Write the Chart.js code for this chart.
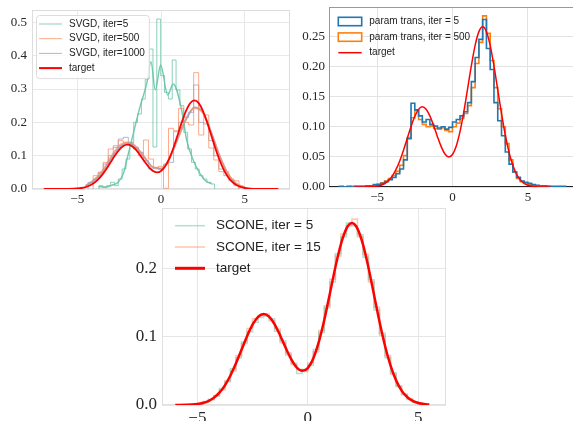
<!DOCTYPE html>
<html>
<head>
<meta charset="utf-8">
<script src="https://cdn.jsdelivr.net/npm/chart.js@4.4.0/dist/chart.umd.min.js"></script>
<style>
html, body { margin: 0; padding: 0; background: #fff; }
body { width: 574px; height: 421px; position: relative; overflow: hidden; }
canvas { position: absolute; }
#svgd { left: 0; top: 0; }
#ptrans { left: 295px; top: 0; }
#scone { left: 120px; top: 205px; }
</style>
</head>
<body>
<canvas id="svgd" width="295" height="205"></canvas>
<canvas id="ptrans" width="279" height="205"></canvas>
<canvas id="scone" width="340" height="216"></canvas>
<script>
// target density
const targetX = [-7, -6.5, -6, -5.5, -5, -4.75, -4.5, -4.25, -4, -3.75, -3.5, -3.25, -3, -2.75, -2.5, -2.25,
    -2, -1.75, -1.5, -1.25, -1, -0.75, -0.5, -0.25, 0, 0.25, 0.5, 0.75, 1, 1.25, 1.5, 1.75, 2, 2.25, 2.5,
    2.75, 3, 3.25, 3.5, 3.75, 4, 4.25, 4.5, 4.75, 5, 5.5, 6, 6.5, 7];
const targetY = [0, 0.00001, 0.00005, 0.0003, 0.0015, 0.0030, 0.0058, 0.0106, 0.0180, 0.0288, 0.0432, 0.0609,
    0.0807, 0.1004, 0.1174, 0.1289, 0.1331, 0.1291, 0.1180, 0.1017, 0.0836, 0.0670, 0.0548, 0.0499, 0.0540,
    0.0681, 0.0922, 0.1247, 0.1628, 0.2014, 0.2350, 0.2579, 0.2660, 0.2578, 0.2347, 0.2007, 0.1613, 0.1217,
    0.0863, 0.0575, 0.0360, 0.0211, 0.0117, 0.0061, 0.0030, 0.0006, 0.0001, 0.00001, 0];

// panel 1: SVGD histograms (first bin edge, bin width, heights)
const svgd5Start = -3.7, svgd5Width = 0.23;
const svgd5Hist = [0.01, 0.005, 0.01, 0.02, 0.01, 0.03, 0.06, 0.09, 0.14, 0.20, 0.225, 0.27, 0.33, 0.42, 0.126,
    0.51, 0.34, 0.29, 0.27, 0.387, 0.297, 0.25, 0.17, 0.12, 0.08, 0.06, 0.04, 0.03, 0.02, 0.015];
const svgd500Start = -4.05, svgd500Width = 0.3;
const svgd500Hist = [0.04, 0.05, 0.08, 0.12, 0.13, 0.145, 0.14, 0.14, 0.12, 0.10, 0.147, 0.09, 0.065, 0.068,
    0.002, 0.182, 0.175, 0.242, 0.20, 0.192, 0.349, 0.162, 0.222, 0.123, 0.087, 0.052, 0.052, 0.03, 0.025];
const svgd1000Start = -4.35, svgd1000Width = 0.3;
const svgd1000Hist = [0.02, 0.03, 0.05, 0.075, 0.10, 0.125, 0.15, 0.155, 0.135, 0.125, 0.11, 0.085, 0.06, 0.065,
    0.06, 0.075, 0.08, 0.172, 0.20, 0.215, 0.23, 0.312, 0.20, 0.195, 0.145, 0.10, 0.06, 0.04, 0.025, 0.01];

// panel 1: smoothed density lines
const svgd5KdeX = [-3.73, -3.3, -2.9, -2.56, -2.24, -2.04, -1.65, -1.25, -0.85, -0.6, -0.34, -0.02, 0.4, 0.73,
    1.23, 1.53, 1.92, 2.32, 2.72, 3.02];
const svgd5KdeY = [0.007, 0.006, 0.012, 0.02, 0.047, 0.087, 0.167, 0.247, 0.317, 0.382, 0.297, 0.372, 0.282,
    0.315, 0.237, 0.147, 0.087, 0.047, 0.022, 0.017];
const svgdKdeX = [-4.5, -4, -3.5, -3, -2.5, -2, -1.5, -1, -0.5, 0, 0.5, 1, 1.5, 2, 2.5, 3, 3.5, 4, 4.5, 5];
const svgd500KdeY = [0.01, 0.027, 0.055, 0.095, 0.13, 0.14, 0.128, 0.097, 0.066, 0.062, 0.092, 0.152, 0.21,
    0.243, 0.228, 0.168, 0.098, 0.045, 0.016, 0.005];
const svgd1000KdeY = [0.01, 0.025, 0.05, 0.09, 0.125, 0.137, 0.125, 0.095, 0.065, 0.06, 0.09, 0.15, 0.21,
    0.245, 0.23, 0.17, 0.10, 0.045, 0.015, 0.005];

// panel 2: param trans histograms
const ptStart = -7.5, ptWidth = 0.25;
const pt5Hist = [0.001, 0, 0.001, 0, 0.001, 0.001, 0.001, 0.002, 0.002, 0.004,
    0.004, 0.006, 0.009, 0.012, 0.016, 0.022, 0.030, 0.045, 0.08, 0.139,
    0.128, 0.118, 0.108, 0.112, 0.104, 0.101, 0.098, 0.100, 0.096, 0.099,
    0.108, 0.112, 0.118, 0.125, 0.14, 0.175, 0.215, 0.245, 0.278, 0.23,
    0.195, 0.14, 0.11, 0.085, 0.058, 0.038, 0.025, 0.016, 0.010, 0.008,
    0.006, 0.004, 0.003, 0.002, 0.002, 0.001, 0.001, 0.001, 0.001, 0.001];
const pt500Hist = [0, 0, 0, 0.001, 0.001, 0.001, 0.001, 0.001, 0.002, 0.003,
    0.005, 0.007, 0.010, 0.014, 0.019, 0.026, 0.036, 0.052, 0.082, 0.115,
    0.127, 0.112, 0.104, 0.100, 0.101, 0.097, 0.096, 0.098, 0.094, 0.092,
    0.100, 0.106, 0.114, 0.122, 0.135, 0.165, 0.205, 0.24, 0.284, 0.255,
    0.21, 0.165, 0.13, 0.10, 0.072, 0.045, 0.025, 0.014, 0.009, 0.006,
    0.004, 0.003, 0.002, 0.001, 0.001, 0.001, 0, 0, 0, 0];

// panel 3: SCONE histograms
const sconeStart = -5.25, sconeWidth = 0.25;
const scone5Hist = [0.001, 0.002, 0.005, 0.008, 0.013, 0.024, 0.034, 0.053, 0.069, 0.092,
    0.107, 0.121, 0.128, 0.130, 0.126, 0.108, 0.094, 0.073, 0.061, 0.046,
    0.052, 0.058, 0.081, 0.106, 0.145, 0.180, 0.221, 0.246, 0.266, 0.262,
    0.249, 0.216, 0.183, 0.139, 0.105, 0.069, 0.047, 0.027, 0.016, 0.008, 0.004, 0.002];
const scone15Hist = [0.001, 0.002, 0.004, 0.008, 0.014, 0.022, 0.036, 0.050, 0.072, 0.090,
    0.112, 0.126, 0.131, 0.133, 0.123, 0.111, 0.091, 0.076, 0.059, 0.052,
    0.049, 0.061, 0.078, 0.109, 0.142, 0.184, 0.218, 0.250, 0.262, 0.272,
    0.246, 0.220, 0.180, 0.143, 0.102, 0.072, 0.045, 0.028, 0.015, 0.009, 0.004, 0.002];

// step outline points for a histogram (stepped line goes across first, then up/down)
function stepPoints(start, width, heights) {
    const pts = [{ x: start, y: 0 }];
    heights.forEach((h, i) => pts.push({ x: +(start + i * width).toFixed(3), y: h }));
    pts.push({ x: +(start + heights.length * width).toFixed(3), y: 0 });
    return pts;
}

function curvePoints(xs, ys, lo, hi) {
    return xs.map((x, i) => ({ x: x, y: ys[i] })).filter(p => p.x >= lo && p.x <= hi);
}

function minusLabel(v) {
    return v < 0 ? '\u2212' + Math.abs(v) : String(v);
}

// frame round the plot area, one colour per side
const plotFrame = {
    id: 'plotFrame',
    beforeDatasetsDraw(chart, args, o) {
        const { left, right, top, bottom } = chart.chartArea;
        const ctx = chart.ctx;
        const side = (color, x1, y1, x2, y2) => {
            if (!color) return;
            ctx.beginPath();
            ctx.moveTo(x1, y1);
            ctx.lineTo(x2, y2);
            ctx.strokeStyle = color;
            ctx.lineWidth = o.width || 1;
            ctx.stroke();
        };
        ctx.save();
        side(o.top, left, top + 0.5, right, top + 0.5);
        side(o.right, right - 0.5, top, right - 0.5, bottom);
        side(o.left, left + 0.5, top, left + 0.5, bottom);
        side(o.bottom, left, bottom - 0.5, right, bottom - 0.5);
        ctx.restore();
    }
};

// legend drawn inside the plot area
const insideLegend = {
    id: 'insideLegend',
    afterDatasetsDraw(chart, args, o) {
        const ctx = chart.ctx;
        const area = chart.chartArea;
        const items = chart.data.datasets.filter(d => d.legendStyle);
        ctx.save();
        ctx.font = o.font;
        const textW = Math.max(...items.map(d => ctx.measureText(d.label).width));
        const x0 = area.left + o.x;
        const y0 = area.top + o.y;
        if (o.frame) {
            const w = o.textX + textW + o.padRight;
            const h = o.firstRow + o.rowGap * (items.length - 1) + o.padBottom;
            ctx.beginPath();
            ctx.roundRect(x0 + 0.5, y0 + 0.5, w, h, 3);
            ctx.fillStyle = 'rgba(255,255,255,0.8)';
            ctx.fill();
            ctx.strokeStyle = o.frame;
            ctx.lineWidth = 1;
            ctx.stroke();
        }
        items.forEach((d, i) => {
            const cy = y0 + o.firstRow + i * o.rowGap;
            const lx = x0 + o.lineX;
            ctx.strokeStyle = d.borderColor;
            ctx.lineWidth = d.legendWidth || d.borderWidth;
            if (d.legendStyle === 'box') {
                ctx.fillStyle = '#fff';
                ctx.fillRect(lx, cy - o.boxH / 2, o.lineLen, o.boxH);
                ctx.strokeRect(lx, cy - o.boxH / 2, o.lineLen, o.boxH);
            } else {
                ctx.beginPath();
                ctx.moveTo(lx, cy);
                ctx.lineTo(lx + o.lineLen, cy);
                ctx.stroke();
            }
            ctx.fillStyle = '#222';
            ctx.textBaseline = 'middle';
            ctx.textAlign = 'left';
            ctx.fillText(d.label, x0 + o.textX, cy);
        });
        ctx.restore();
    }
};

function histSet(label, start, width, heights, color, lineWidth, legendStyle) {
    return {
        label: label,
        data: stepPoints(start, width, heights),
        stepped: true,
        borderColor: color,
        borderWidth: lineWidth,
        pointRadius: 0,
        fill: false,
        legendStyle: legendStyle
    };
}

function curveSet(label, points, color, lineWidth, legendStyle, legendWidth) {
    return {
        label: label,
        data: points,
        borderColor: color,
        borderWidth: lineWidth,
        cubicInterpolationMode: 'monotone',
        pointRadius: 0,
        fill: false,
        legendStyle: legendStyle,
        legendWidth: legendWidth
    };
}

// axes with fixed sizes so the plot area lands where the reference has it
function axes(xr, yr, tickFont, yStep, yDigits, yWidth, xHeight, yPad, gridColor) {
    return {
        x: {
            type: 'linear', min: xr[0], max: xr[1],
            afterFit: s => { s.height = xHeight; s.paddingLeft = 0; s.paddingRight = 0; },
            grid: { color: gridColor, drawTicks: false },
            border: { display: false },
            ticks: { stepSize: 5, includeBounds: false, padding: 3, color: '#262626',
                font: tickFont, callback: minusLabel, maxRotation: 0 }
        },
        y: {
            min: yr[0], max: yr[1],
            afterFit: s => { s.width = yWidth; s.paddingTop = 0; s.paddingBottom = 0; },
            grid: { color: gridColor, drawTicks: false },
            border: { display: false },
            ticks: { stepSize: yStep, includeBounds: false, padding: yPad, color: '#262626',
                font: tickFont, callback: v => v.toFixed(yDigits) }
        }
    };
}

const baseOptions = {
    responsive: false,
    animation: false,
    devicePixelRatio: 1,
    events: []
};

// panel 1
const svgdRed = curveSet('target', curvePoints(targetX, targetY, -7, 7), '#ff0000', 1.8, 'line', 2);
svgdRed.order = -1;
new Chart(document.getElementById('svgd'), {
    type: 'line',
    data: {
        datasets: [
            histSet('SVGD, iter=5', svgd5Start, svgd5Width, svgd5Hist, 'rgba(102,194,165,0.75)', 1, 'line'),
            histSet('SVGD, iter=500', svgd500Start, svgd500Width, svgd500Hist, 'rgba(252,141,98,0.75)', 1, 'line'),
            histSet('SVGD, iter=1000', svgd1000Start, svgd1000Width, svgd1000Hist, 'rgba(141,160,203,0.75)', 1, 'line'),
            svgdRed,
            curveSet('kde5', curvePoints(svgd5KdeX, svgd5KdeY, -9, 9), 'rgba(102,194,165,0.9)', 1.4),
            curveSet('kde500', curvePoints(svgdKdeX, svgd500KdeY, -9, 9), 'rgba(252,141,98,0.7)', 1.8),
            curveSet('kde1000', curvePoints(svgdKdeX, svgd1000KdeY, -9, 9), 'rgba(141,160,203,0.8)', 1.8)
        ]
    },
    options: Object.assign({}, baseOptions, {
        layout: { padding: { top: 10, right: 5, left: 0, bottom: 0 } },
        scales: axes([-7.7, 7.7], [0, 0.537], { family: 'Liberation Serif', size: 13 }, 0.1, 1, 32, 16, 5, '#e8e8e8'),
        plugins: {
            legend: { display: false },
            tooltip: { enabled: false },
            plotFrame: { top: '#dddddd', right: '#dddddd', left: '#dddddd', bottom: '#dddddd' },
            insideLegend: { font: '10px "Liberation Sans"', x: 4, y: 5, lineX: 3, lineLen: 23, textX: 33,
                firstRow: 9, rowGap: 14.7, padRight: 4, padBottom: 10, frame: '#dcdcdc' }
        }
    }),
    plugins: [plotFrame, insideLegend]
});

// panel 2
const ptRed = curveSet('target', curvePoints(targetX, targetY, -6.5, 6.5), '#ff0000', 1.5, 'line', 1.5);
ptRed.order = -1;
new Chart(document.getElementById('ptrans'), {
    type: 'line',
    data: {
        datasets: [
            histSet('param trans, iter = 5', ptStart, ptWidth, pt5Hist, '#1f77b4', 1.6, 'box'),
            histSet('param trans, iter = 500', ptStart, ptWidth, pt500Hist, '#ff7f0e', 1.6, 'box'),
            ptRed
        ]
    },
    options: Object.assign({}, baseOptions, {
        layout: { padding: { top: 7, right: 1, left: 0, bottom: 0 } },
        scales: axes([-8.19, 7.99], [0, 0.2988], { family: 'Liberation Serif', size: 13 }, 0.05, 2, 34, 18, 4, '#e3e3e3'),
        plugins: {
            legend: { display: false },
            tooltip: { enabled: false },
            plotFrame: { top: '#999999', left: '#999999', bottom: '#222222' },
            insideLegend: { font: '10px "Liberation Sans"', x: 0, y: 0, lineX: 9.3, lineLen: 23.4, boxH: 8.4,
                textX: 40.3, firstRow: 14.5, rowGap: 15.6 }
        }
    }),
    plugins: [plotFrame, insideLegend]
});

// panel 3
const sconeRed = curveSet('target', curvePoints(targetX, targetY, -6, 5.5), '#ff0000', 2.5, 'line', 3);
sconeRed.order = -1;
new Chart(document.getElementById('scone'), {
    type: 'line',
    data: {
        datasets: [
            histSet('SCONE, iter = 5', sconeStart, sconeWidth, scone5Hist, 'rgba(102,194,165,0.5)', 1.5, 'line'),
            histSet('SCONE, iter = 15', sconeStart, sconeWidth, scone15Hist, 'rgba(252,141,98,0.5)', 1.5, 'line'),
            sconeRed
        ]
    },
    options: Object.assign({}, baseOptions, {
        layout: { padding: { top: 3, right: 14, left: 0, bottom: 0 } },
        scales: axes([-6.6, 6.26], [0, 0.288], { family: 'Liberation Serif', size: 17 }, 0.1, 1, 42, 16, 5, '#e6e6e6'),
        plugins: {
            legend: { display: false },
            tooltip: { enabled: false },
            plotFrame: { top: '#e0e0e0', right: '#e0e0e0', left: '#e0e0e0', bottom: '#e0e0e0' },
            insideLegend: { font: '13.5px "Liberation Sans"', x: 0, y: 0, lineX: 13, lineLen: 30,
                textX: 54, firstRow: 17.7, rowGap: 21.3 }
        }
    }),
    plugins: [plotFrame, insideLegend]
});
</script>
</body>
</html>
